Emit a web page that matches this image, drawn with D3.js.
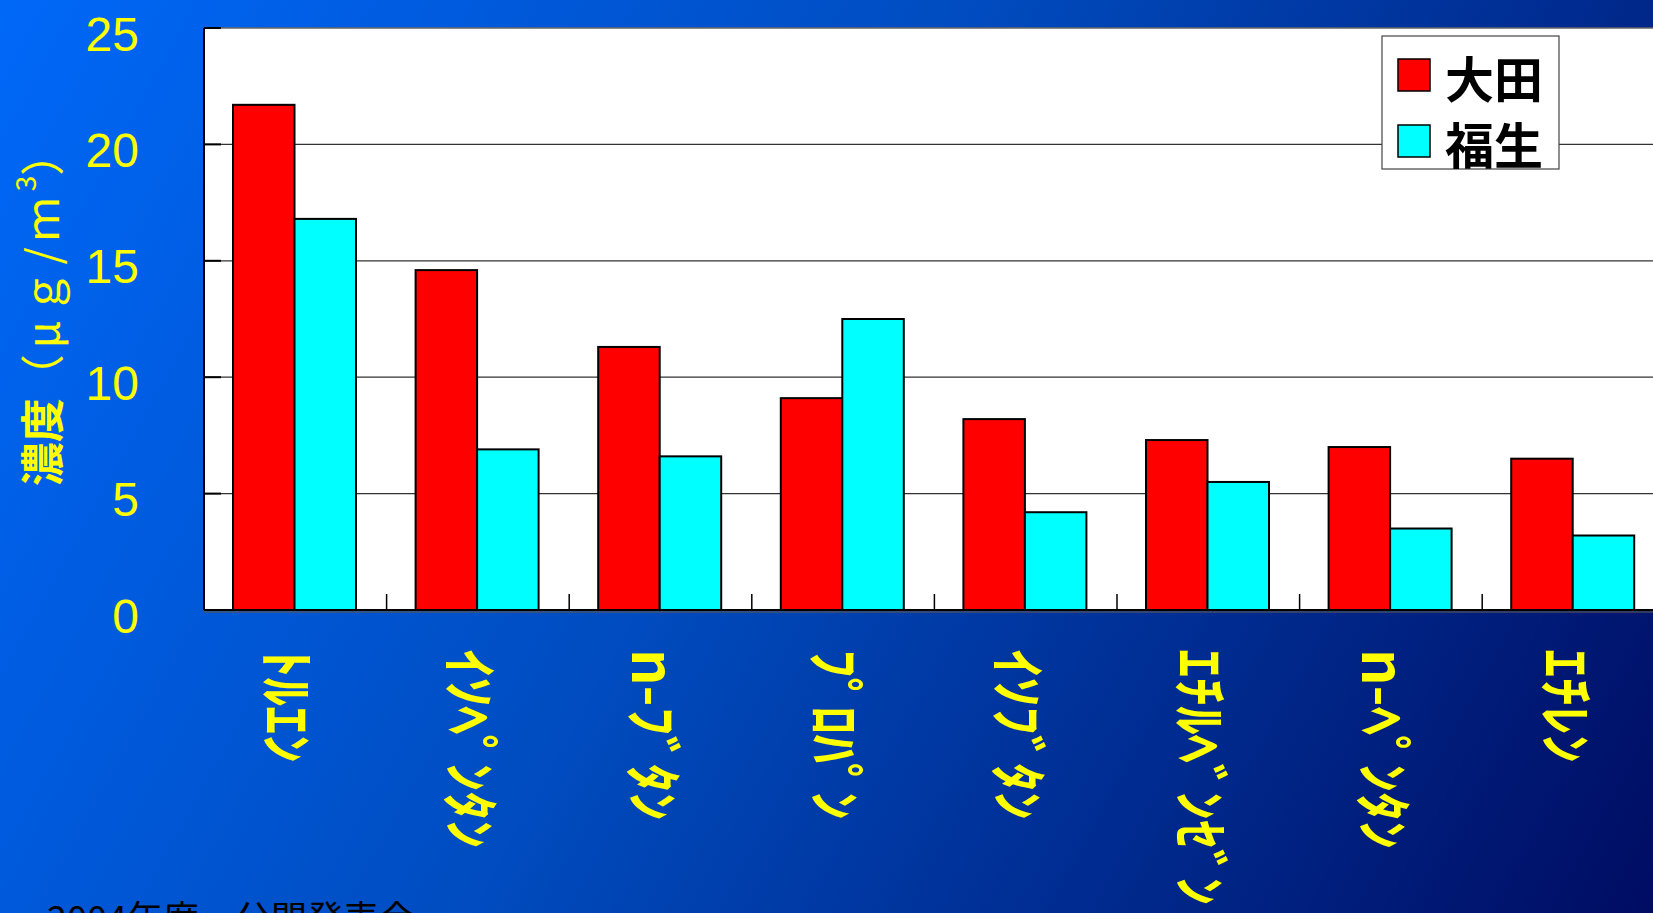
<!DOCTYPE html>
<html>
<head>
<meta charset="utf-8">
<script src="https://cdn.jsdelivr.net/npm/d3@7"></script>
<style>
  html, body { margin: 0; padding: 0; overflow: hidden; background: #0050c8; }
  svg { display: block; }
</style>
</head>
<body>
<svg id="chart" width="1653" height="913"></svg>
<script>
// ---- data ----
const categories = ["ﾄﾙｴﾝ", "ｲｿﾍﾟﾝﾀﾝ", "n-ﾌﾞﾀﾝ", "ﾌﾟﾛﾊﾟﾝ", "ｲｿﾌﾞﾀﾝ", "ｴﾁﾙﾍﾞﾝｾﾞﾝ", "n-ﾍﾟﾝﾀﾝ", "ｴﾁﾚﾝ"];
const seriesNames = ["大田", "福生"];
const otaValues   = [21.7, 14.6, 11.3, 9.1, 8.2, 7.3, 7.0, 6.5];
const fussaValues = [16.8, 6.9, 6.6, 12.5, 4.2, 5.5, 3.5, 3.2];
const yTicks = [0, 5, 10, 15, 20, 25];
const seriesColors = ["#ff0000", "#00ffff"];
const footerText = "2004年度　公開発表会";

// ---- layout ----
const W = 1653, H = 913;
const plot = { left: 204, top: 28, bottom: 610, step: 182.6 };
const plotRight = plot.left + plot.step * categories.length;

const svg = d3.select("#chart");

// background gradient
const defs = svg.append("defs");
const grad = defs.append("linearGradient")
  .attr("id", "bg").attr("gradientUnits", "userSpaceOnUse")
  .attr("x1", 0).attr("y1", 0).attr("x2", W).attr("y2", H);
grad.append("stop").attr("offset", "0%").attr("stop-color", "#0068f8");
grad.append("stop").attr("offset", "45%").attr("stop-color", "#004cc0");
grad.append("stop").attr("offset", "100%").attr("stop-color", "#000c62");
svg.append("rect").attr("width", W).attr("height", H).attr("fill", "url(#bg)");

// scales
const x0 = d3.scaleBand().domain(categories).range([plot.left, plotRight]).padding(0);
const x1 = d3.scaleBand().domain(seriesNames).range([29, 29 + 123]).padding(0);
const y = d3.scaleLinear().domain([0, 25]).range([plot.bottom, plot.top]);

// plot area
svg.append("rect")
  .attr("x", plot.left).attr("y", plot.top)
  .attr("width", plotRight - plot.left).attr("height", plot.bottom - plot.top)
  .attr("fill", "#ffffff");

// gridlines
svg.append("g").selectAll("line").data(yTicks.filter(d => d > 0)).join("line")
  .attr("x1", plot.left).attr("x2", plotRight)
  .attr("y1", d => y(d)).attr("y2", d => y(d))
  .attr("stroke", d => d === 25 ? "#666" : "#333").attr("stroke-width", 1.3);

// y inner ticks
svg.append("g").selectAll("line").data(yTicks).join("line")
  .attr("x1", plot.left).attr("x2", plot.left + 17)
  .attr("y1", d => y(d)).attr("y2", d => y(d))
  .attr("stroke", "#000").attr("stroke-width", 2);

// bars
const seriesData = [otaValues, fussaValues];
const groups = svg.append("g").selectAll("g").data(categories).join("g")
  .attr("transform", d => `translate(${x0(d)},0)`);
groups.selectAll("rect").data((d, i) => seriesNames.map((s, j) => ({ s, v: seriesData[j][i], j })))
  .join("rect")
  .attr("x", d => x1(d.s))
  .attr("width", x1.bandwidth())
  .attr("y", d => y(d.v))
  .attr("height", d => y(0) - y(d.v))
  .attr("fill", d => seriesColors[d.j])
  .attr("stroke", "#000").attr("stroke-width", 2);

// x ticks at band boundaries (inside)
svg.append("g").selectAll("line").data(categories.slice(1)).join("line")
  .attr("x1", d => x0(d)).attr("x2", d => x0(d))
  .attr("y1", plot.bottom).attr("y2", plot.bottom - 16)
  .attr("stroke", "#000").attr("stroke-width", 1.5);

// axes lines
svg.append("line").attr("x1", plot.left).attr("x2", plotRight)
  .attr("y1", plot.bottom + 2).attr("y2", plot.bottom + 2)
  .attr("stroke", "#555").attr("stroke-width", 2).attr("opacity", 0.6);
svg.append("line").attr("x1", plot.left).attr("x2", plotRight)
  .attr("y1", plot.bottom).attr("y2", plot.bottom)
  .attr("stroke", "#000").attr("stroke-width", 2);
svg.append("line").attr("x1", plot.left).attr("x2", plot.left)
  .attr("y1", plot.top).attr("y2", plot.bottom)
  .attr("stroke", "#000").attr("stroke-width", 2);

// y tick labels
svg.append("g").selectAll("text").data(yTicks).join("text")
  .attr("x", 139).attr("y", d => y(d) + 6)
  .attr("text-anchor", "end").attr("dominant-baseline", "central")
  .attr("font-family", "'Liberation Sans', Arial, sans-serif")
  .attr("font-size", 48).attr("fill", "#ffff00")
  .text(d => d);

// x labels, rotated
svg.append("g").selectAll("text").data(categories).join("text")
  .attr("transform", d => `translate(${x0(d) + x0.bandwidth() / 2 - 4},649) rotate(90)`)
  .attr("text-anchor", "start").attr("dominant-baseline", "central")
  .attr("font-family", "'Noto Sans CJK JP', sans-serif")
  .attr("font-weight", "bold")
  .attr("font-size", 57).attr("fill", "#ffff00")
  .text(d => d);

// y axis title
const yt = svg.append("text")
  .attr("transform", "translate(40,309) rotate(-90)")
  .attr("text-anchor", "middle").attr("dominant-baseline", "central")
  .attr("font-family", "'Noto Sans CJK JP', sans-serif")
  .attr("font-size", 44).attr("fill", "#ffff00");
yt.append("tspan").attr("font-weight", "bold").text("濃度");
yt.append("tspan").attr("letter-spacing", 6).text("（μｇ/ｍ");
yt.append("tspan").attr("font-size", 28).attr("dy", -16).text("3");
yt.append("tspan").attr("dy", 16).text("）");

// legend
const lg = svg.append("g");
lg.append("rect").attr("x", 1382).attr("y", 36).attr("width", 177).attr("height", 133)
  .attr("fill", "#fff").attr("stroke", "#444").attr("stroke-width", 1.2);
seriesNames.forEach((s, i) => {
  const cy = 75 + i * 66;
  lg.append("rect").attr("x", 1398).attr("y", cy - 16).attr("width", 32).attr("height", 32)
    .attr("fill", seriesColors[i]).attr("stroke", "#000").attr("stroke-width", 1.5);
  lg.append("text").attr("x", 1445).attr("y", cy + 1)
    .attr("dominant-baseline", "central")
    .attr("font-family", "'Noto Sans CJK JP', sans-serif")
    .attr("font-weight", "bold").attr("font-size", 49).attr("fill", "#000")
    .text(s);
});

// footer (cut off by the bottom edge, as in the original slide)
svg.append("text").attr("x", 47).attr("y", 932)
  .attr("font-family", "'Noto Sans CJK JP', sans-serif")
  .attr("font-size", 36).attr("fill", "#000")
  .text(footerText);
</script>
</body>
</html>
